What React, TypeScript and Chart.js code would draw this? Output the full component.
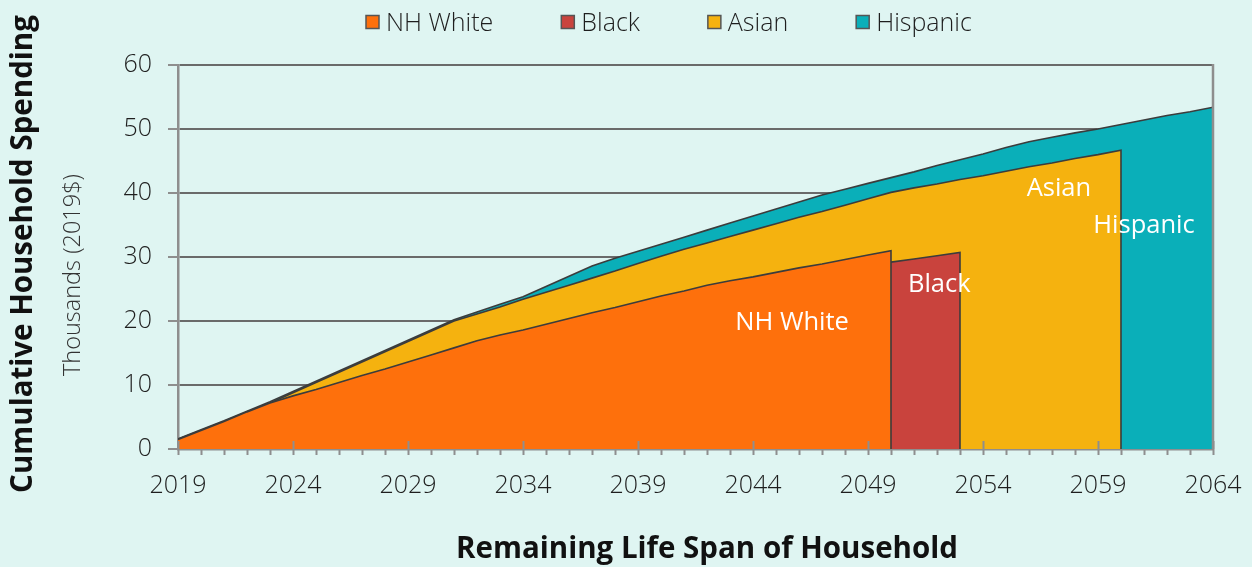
import React, { useEffect, useRef } from 'react';
import { Chart, registerables } from 'chart.js';

Chart.register(...registerables);

const YEARS = [
  2019, 2020, 2021, 2022, 2023, 2024, 2025, 2026, 2027, 2028,
  2029, 2030, 2031, 2032, 2033, 2034, 2035, 2036, 2037, 2038,
  2039, 2040, 2041, 2042, 2043, 2044, 2045, 2046, 2047, 2048,
  2049, 2050, 2051, 2052, 2053, 2054, 2055, 2056, 2057, 2058,
  2059, 2060, 2061, 2062, 2063, 2064,
];

const NH_WHITE = [
  1.5, 2.9, 4.3, 5.8, 7.2, 8.3, 9.3, 10.4, 11.5, 12.5,
  13.6, 14.7, 15.8, 16.9, 17.8, 18.6, 19.5, 20.4, 21.3, 22.1,
  23.0, 23.9, 24.7, 25.6, 26.3, 26.9, 27.6, 28.3, 28.9, 29.6,
  30.3, 31.0,
];

const BLACK = [
  1.4, 2.8, 4.1, 5.5, 6.8, 7.8, 8.8, 9.8, 10.8, 11.8,
  12.8, 13.8, 14.8, 15.8, 16.7, 17.5, 18.3, 19.2, 20.0, 20.8,
  21.6, 22.4, 23.2, 24.0, 24.7, 25.3, 26.0, 26.6, 27.2, 27.9,
  28.5, 29.2, 29.7, 30.2, 30.7,
];

const ASIAN = [
  1.5, 2.9, 4.3, 5.8, 7.2, 8.8, 10.4, 12.0, 13.6, 15.2,
  16.8, 18.4, 20.0, 21.1, 22.2, 23.4, 24.5, 25.6, 26.7, 27.8,
  29.0, 30.1, 31.2, 32.2, 33.2, 34.2, 35.2, 36.2, 37.1, 38.1,
  39.1, 40.1, 40.8, 41.4, 42.1, 42.7, 43.4, 44.1, 44.7, 45.4,
  46.0, 46.7,
];

const HISPANIC = [
  1.6, 3.0, 4.4, 5.9, 7.4, 9.0, 10.6, 12.2, 13.8, 15.4,
  17.0, 18.6, 20.2, 21.4, 22.6, 23.8, 25.4, 27.0, 28.6, 29.8,
  30.9, 32.0, 33.1, 34.2, 35.3, 36.4, 37.5, 38.6, 39.7, 40.6,
  41.5, 42.4, 43.3, 44.3, 45.2, 46.1, 47.1, 48.0, 48.7, 49.4,
  50.0, 50.7, 51.4, 52.1, 52.7, 53.4,
];

const SERIES_NAMES = ['NH White', 'Black', 'Asian', 'Hispanic'];
const SERIES_VALUES = [NH_WHITE, BLACK, ASIAN, HISPANIC];
const SERIES_COLORS = ['#FE700C', '#C9433D', '#F5B20F', '#0AAFB9'];

const X_TICKS = [2019, 2024, 2029, 2034, 2039, 2044, 2049, 2054, 2059, 2064];
const Y_TICKS = [0, 10, 20, 30, 40, 50, 60];

const X_TITLE = 'Remaining Life Span of Household';
const Y_TITLE = 'Cumulative Household Spending';
const Y_SUBTITLE = 'Thousands (2019$)';

// in-chart series labels, anchored in data coordinates (year, value)
const SERIES_LABEL_ANCHORS = [
  { text: 'NH White', x: 2045.7, y: 20.0 },
  { text: 'Black', x: 2052.1, y: 25.9 },
  { text: 'Asian', x: 2057.3, y: 40.9 },
  { text: 'Hispanic', x: 2061.0, y: 35.2 },
];

const BG = '#DFF5F2';
const GRID = '#6A6A6A';
const AXIS = '#8E8E8E';
const OUTLINE = '#3C3C3C';
const TEXT = '#1E1E1E';
const FONT = '"Open Sans", "DejaVu Sans", sans-serif';

function buildData(values: number[]) {
  const pts = values.map((v, i) => ({ x: YEARS[i], y: v }));
  pts.push({ x: YEARS[values.length - 1], y: 0 });
  return pts;
}

const decorPlugin = {
  id: 'decor',
  beforeDraw(chart: any) {
    const { ctx, width, height } = chart;
    ctx.save();
    ctx.fillStyle = BG;
    ctx.fillRect(0, 0, width, height);
    ctx.restore();
  },
  afterDatasetsDraw(chart: any) {
    const { ctx, chartArea } = chart;
    const xs = chart.scales.x;
    const ys = chart.scales.y;
    ctx.save();
    // right border
    ctx.strokeStyle = AXIS;
    ctx.lineWidth = 2.5;
    ctx.beginPath();
    ctx.moveTo(chartArea.right, chartArea.top - 1);
    ctx.lineTo(chartArea.right, chartArea.bottom);
    ctx.stroke();
    // x tick marks (major + minor)
    ctx.lineWidth = 2;
    ctx.beginPath();
    YEARS.forEach((yr) => {
      const px = Math.round(xs.getPixelForValue(yr)) + 0.5;
      const major = X_TICKS.includes(yr);
      ctx.moveTo(px, major ? chartArea.bottom - 8 : chartArea.bottom);
      ctx.lineTo(px, chartArea.bottom + 6);
    });
    ctx.stroke();
    // series labels
    ctx.fillStyle = '#FFFFFF';
    ctx.font = `400 25.5px ${FONT}`;
    ctx.textAlign = 'center';
    ctx.textBaseline = 'alphabetic';
    SERIES_LABEL_ANCHORS.forEach((l) => {
      ctx.fillText(l.text, xs.getPixelForValue(l.x), ys.getPixelForValue(l.y) + 9.1);
    });
    ctx.restore();
  },
  afterDraw(chart: any) {
    const { ctx } = chart;
    ctx.save();
    // legend
    ctx.font = `300 25px ${FONT}`;
    ctx.textBaseline = 'alphabetic';
    ctx.textAlign = 'left';
    let x = 366;
    const cy = 22;
    SERIES_NAMES.forEach((name, i) => {
      ctx.fillStyle = SERIES_COLORS[i];
      ctx.fillRect(x, cy - 6.5, 13, 13);
      ctx.strokeStyle = '#555555';
      ctx.lineWidth = 1.5;
      ctx.strokeRect(x, cy - 6.5, 13, 13);
      ctx.fillStyle = TEXT;
      ctx.fillText(name, x + 20, cy + 8.9);
      x += 20 + ctx.measureText(name).width + 68;
    });
    // x title
    ctx.fillStyle = '#111111';
    ctx.font = `700 29.5px ${FONT}`;
    ctx.textAlign = 'center';
    ctx.fillText(X_TITLE, 707, 558);
    // y titles
    ctx.save();
    ctx.translate(32, 254);
    ctx.rotate(-Math.PI / 2);
    ctx.fillText(Y_TITLE, 0, 0);
    ctx.restore();
    ctx.save();
    ctx.translate(80, 275);
    ctx.rotate(-Math.PI / 2);
    ctx.font = `300 23.5px ${FONT}`;
    ctx.fillStyle = '#333333';
    ctx.fillText(Y_SUBTITLE, 0, 0);
    ctx.restore();
    ctx.restore();
  },
};

export default function App() {
  const ref = useRef<HTMLCanvasElement>(null);
  useEffect(() => {
    document.body.style.margin = '0';
    document.body.style.background = BG;
    const chart = new Chart(ref.current as HTMLCanvasElement, {
      type: 'line',
      data: {
        datasets: SERIES_NAMES.map((name, i) => ({
          label: name,
          data: buildData(SERIES_VALUES[i]),
          backgroundColor: SERIES_COLORS[i],
          borderColor: OUTLINE,
          borderWidth: 1.6,
          fill: 'origin',
          pointRadius: 0,
          tension: 0,
        })),
      },
      options: {
        responsive: false,
        animation: false,
        layout: { padding: { top: 65, right: 39, left: 0, bottom: 0 } },
        plugins: {
          legend: { display: false },
          tooltip: { enabled: false },
          title: { display: false },
        },
        scales: {
          x: {
            type: 'linear',
            min: 2019,
            max: 2064,
            afterBuildTicks: (s: any) => {
              s.ticks = X_TICKS.map((v) => ({ value: v }));
            },
            afterFit: (s: any) => {
              s.height = 118;
              s.paddingLeft = 0;
              s.paddingRight = 0;
            },
            grid: { display: false, drawTicks: false },
            border: { display: true, color: AXIS, width: 2.5 },
            ticks: {
              padding: 22,
              autoSkip: false,
              maxRotation: 0,
              color: TEXT,
              font: { family: FONT, size: 25, weight: '300' },
              callback: (v: any) => String(v),
            },
          },
          y: {
            min: 0,
            max: 60,
            afterBuildTicks: (s: any) => {
              s.ticks = Y_TICKS.map((v) => ({ value: v }));
            },
            afterFit: (s: any) => {
              s.width = 178;
            },
            grid: {
              color: (c: any) => (c.tick && c.tick.value === 0 ? 'rgba(0,0,0,0)' : GRID),
              tickColor: AXIS,
              lineWidth: 2,
              tickLength: 10,
            },
            border: { color: AXIS, width: 2.5 },
            ticks: {
              padding: 16,
              color: TEXT,
              font: { family: FONT, size: 25, weight: '300' },
              callback: (v: any) => String(v),
            },
          },
        },
      },
      plugins: [decorPlugin],
    });
    return () => chart.destroy();
  }, []);
  return (
    <div style={{ width: 1252, height: 567 }}>
      <canvas ref={ref} width={1252} height={567} style={{ display: 'block' }} />
    </div>
  );
}
